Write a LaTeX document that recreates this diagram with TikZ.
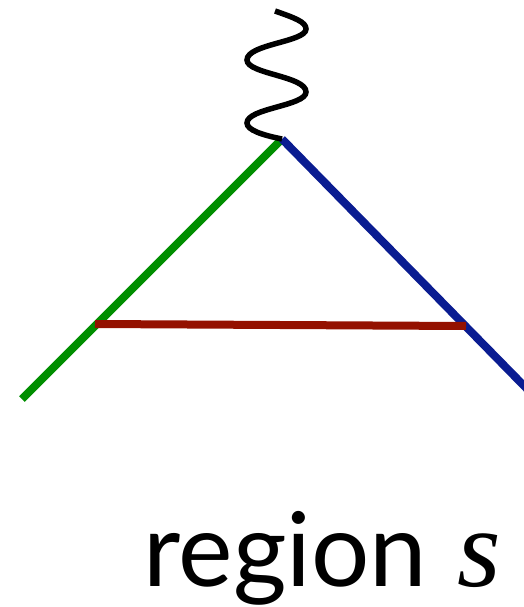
\documentclass[tikz,border=0pt]{standalone}
\usepackage{fontspec}
\setmainfont{Lato}
\newfontfamily\timesit{Liberation Serif}[ItalicFont=* Italic]
\usetikzlibrary{positioning,calc}
\definecolor{QuarkGreen}{RGB}{0,142,0}
\definecolor{QuarkBlue}{RGB}{10,28,145}
\definecolor{GluonRed}{RGB}{148,17,0}
\tikzset{
  leg/.style={line width=8pt},
  photon/.style={line width=5.5pt,black},
  regionlabel/.style={font=\fontsize{103}{103}\selectfont,inner sep=0pt,anchor=base west}
}
\begin{document}
\begin{tikzpicture}[x=1pt,y=-1pt]
  \useasboundingbox (0,0) rectangle (523,607);
  \coordinate (vertex) at (282,139);
  \coordinate (greenend) at (22,399);
  \coordinate (blueend) at (534,396);
  \coordinate (gluonleft) at (95,324);
  \coordinate (gluonright) at (466,326);
  \coordinate (photonend) at (275,11);
  % lines
  \draw[leg,QuarkGreen] (greenend) -- (vertex);
  \draw[leg,QuarkBlue] (vertex) -- (blueend);
  \draw[leg,GluonRed] (gluonleft) -- (gluonright);
  \draw[photon] (photonend) .. controls (295,18) and (306,22) .. (306,29)
    .. controls (306,42) and (247,44) .. (247,60)
    .. controls (247,74) and (306,76) .. (306,92)
    .. controls (306,106) and (247,108) .. (247,123)
    .. controls (247,130) and (262,135) .. (vertex);
  \node[regionlabel] (label) at (143,586) {region\hspace{30pt}{\fontsize{112}{112}\timesit\itshape s}};
\end{tikzpicture}
\end{document}
